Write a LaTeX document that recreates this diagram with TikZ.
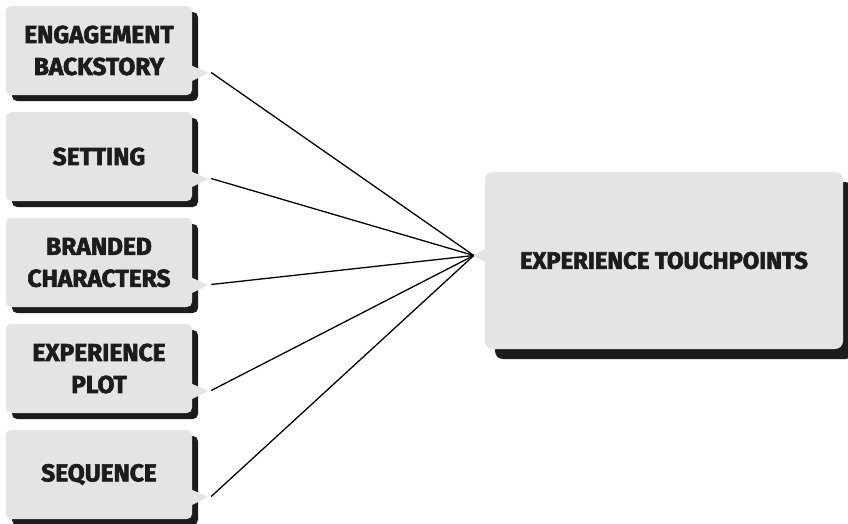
\documentclass[tikz,border=0pt]{standalone}
\usepackage{fontspec}
\setmainfont{Fira Sans}
\newfontfamily\lblfont{Fira Sans}[FakeBold=2.4]
\usetikzlibrary{shadows}
\definecolor{boxgray}{HTML}{E4E4E4}
\definecolor{ink}{HTML}{1C1C1C}
\begin{document}
\begin{tikzpicture}[x=1pt,y=-1pt,
  box/.style={fill=boxgray, rounded corners=5pt, minimum width=186pt, minimum height=89pt,
    inner sep=0pt, align=center, text=ink,
    font=\lblfont\bfseries\fontsize{24.5}{32}\selectfont,
    general shadow={fill=ink, shadow xshift=6pt, shadow yshift=-6pt}},
  bigbox/.style={fill=boxgray, rounded corners=8pt, minimum width=358pt, minimum height=177pt,
    inner sep=0pt, align=center, text=ink,
    font=\lblfont\bfseries\fontsize{23.8}{32}\selectfont,
    general shadow={fill=ink, shadow xshift=10pt, shadow yshift=-10pt}},
  ptr/.style={fill=boxgray},
  conn/.style={draw=black, line width=1.3pt}]
\useasboundingbox (0,0) rectangle (848,523);
\fill[white] (0,0) rectangle (848,523);

\node[box] (b1) at (99,50.5)  {ENGAGEMENT\\BACKSTORY};
\node[box] (b2) at (99,156.5) {SETTING};
\node[box] (b3) at (99,262.5) {BRANDED\\CHARACTERS};
\node[box] (b4) at (99,368.5) {EXPERIENCE\\PLOT};
\node[box] (b5) at (99,474.5) {SEQUENCE};

\foreach \i in {1,...,5}{
  \fill[ptr] ([shift={(-2pt,-14.5pt)}]b\i.east) -- ([shift={(16pt,-22.5pt)}]b\i.east)
     -- ([shift={(-2pt,-31.5pt)}]b\i.east) -- cycle;
  \coordinate (t\i) at ([shift={(19pt,-22pt)}]b\i.east);
}

\node[bigbox] (B) at (664,260.5) {EXPERIENCE TOUCHPOINTS};
\fill[ptr] ([shift={(2pt,12.5pt)}]B.west) -- ([shift={(-12pt,5pt)}]B.west)
   -- ([shift={(2pt,-2.5pt)}]B.west) -- cycle;
\coordinate (bt) at ([shift={(-11pt,5pt)}]B.west);

\foreach \i in {1,...,5}{ \draw[conn] (t\i) -- (bt); }
\end{tikzpicture}
\end{document}
